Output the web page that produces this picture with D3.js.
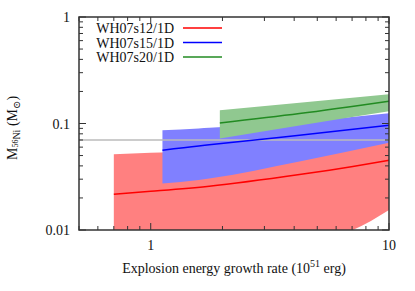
<!DOCTYPE html>
<html>
<head>
<meta charset="utf-8">
<script src="https://cdn.jsdelivr.net/npm/d3@7"></script>
<style>
  body { margin: 0; background: #fff; }
  text { font-family: "Liberation Serif", "DejaVu Serif", serif; fill: #111; }
</style>
</head>
<body>
<svg class="chart"></svg>
<script>
// Chart size
const width = 415;
const height = 291;
const margin = { top: 17, right: 26, bottom: 61, left: 79 };

// Series names and colours
const seriesNames = ["WH07s12/1D", "WH07s15/1D", "WH07s20/1D"];
const lineColors = ["#ff0000", "#0000ff", "#228b22"];
const bandColors = ["#ff8080", "#8080ff", "#90c890"];

// Explosion energy growth rate (x) for each series
const xS12 = [0.7, 1.0, 1.76, 4.21, 7.05, 10];
const xS15 = [1.12, 1.59, 1.76, 4.21, 10];
const xS20 = [1.95, 4.21, 10];

// Ni mass: central line, lower and upper edge of band
const midS12 = [0.0217, 0.0231, 0.0258, 0.0332, 0.0395, 0.0452];
const lowS12 = [0.004, 0.0045, 0.0055, 0.0078, 0.0100, 0.0154];
const highS12 = [0.0515, 0.053, 0.055, 0.060, 0.064, 0.067];

const midS15 = [0.0562, 0.0616, 0.063, 0.0777, 0.0963];
const lowS15 = [0.0273, 0.0295, 0.0304, 0.044, 0.066];
const highS15 = [0.0865, 0.0897, 0.091, 0.104, 0.125];

const midS20 = [0.1013, 0.124, 0.162];
const lowS20 = [0.0723, 0.0957, 0.130];
const highS20 = [0.133, 0.157, 0.188];

// Reference level
const refNi = 0.07;

// Tick labels
const xTicks = [1, 10];
const yTicks = [0.01, 0.1, 1];

const series = [
  { x: xS12, mid: midS12, low: lowS12, high: highS12 },
  { x: xS15, mid: midS15, low: lowS15, high: highS15 },
  { x: xS20, mid: midS20, low: lowS20, high: highS20 }
];

const svg = d3.select(".chart")
  .attr("width", width)
  .attr("height", height);

const x = d3.scaleLog().domain([0.5, 10]).range([margin.left, width - margin.right]);
const y = d3.scaleLog().domain([0.01, 1]).range([height - margin.bottom, margin.top]);

svg.append("clipPath").attr("id", "plot")
  .append("rect")
  .attr("x", margin.left).attr("y", margin.top)
  .attr("width", x.range()[1] - x.range()[0])
  .attr("height", y.range()[0] - y.range()[1]);

const g = svg.append("g").attr("clip-path", "url(#plot)");

// Bands
series.forEach((s, i) => {
  const pts = s.x.map((xv, j) => ({ x: xv, mid: s.mid[j], low: s.low[j], high: s.high[j] }));
  const area = d3.area()
    .x(d => x(d.x))
    .y0(d => y(d.low))
    .y1(d => y(d.high))
    .curve(d3.curveMonotoneX);
  g.append("path")
    .datum(pts)
    .attr("fill", bandColors[i])
    .attr("d", area);
  s.pts = pts;
});

// Reference line
g.append("line")
  .attr("x1", x.range()[0]).attr("x2", x.range()[1])
  .attr("y1", y(refNi)).attr("y2", y(refNi))
  .attr("stroke", "#bbbbbb")
  .attr("stroke-width", 1.5);

// Central lines
series.forEach((s, i) => {
  const line = d3.line()
    .x(d => x(d.x))
    .y(d => y(d.mid))
    .curve(d3.curveMonotoneX);
  g.append("path")
    .datum(s.pts)
    .attr("fill", "none")
    .attr("stroke", lineColors[i])
    .attr("stroke-width", 1.5)
    .attr("d", line);
});

// Frame and ticks
const x0 = x.range()[0], x1 = x.range()[1];
const y0 = y.range()[0], y1 = y.range()[1];
const axisColor = "#333";

const xMinor = [0.5, 0.6, 0.7, 0.8, 0.9, 2, 3, 4, 5, 6, 7, 8, 9];
const yMinor = [];
[0.01, 0.1].forEach(d => { for (let k = 2; k <= 9; k++) yMinor.push(d * k); });

const ticks = svg.append("g").attr("stroke", axisColor).attr("stroke-width", 1);
xMinor.concat(xTicks).forEach(v => {
  const len = xTicks.includes(v) ? 7 : 4;
  ticks.append("line").attr("x1", x(v)).attr("x2", x(v)).attr("y1", y0).attr("y2", y0 - len);
  ticks.append("line").attr("x1", x(v)).attr("x2", x(v)).attr("y1", y1).attr("y2", y1 + len);
});
yMinor.concat(yTicks).forEach(v => {
  const len = yTicks.includes(v) ? 7 : 4;
  ticks.append("line").attr("y1", y(v)).attr("y2", y(v)).attr("x1", x0).attr("x2", x0 + len);
  ticks.append("line").attr("y1", y(v)).attr("y2", y(v)).attr("x1", x1).attr("x2", x1 - len);
});

svg.append("rect")
  .attr("x", x0).attr("y", y1)
  .attr("width", x1 - x0).attr("height", y0 - y1)
  .attr("fill", "none")
  .attr("stroke", axisColor)
  .attr("stroke-width", 1.5);

// Tick labels
svg.selectAll(".xlab").data(xTicks).enter().append("text")
  .attr("x", d => x(d)).attr("y", y0 + 20)
  .attr("text-anchor", "middle")
  .attr("font-size", 14)
  .text(d => d);

svg.selectAll(".ylab").data(yTicks).enter().append("text")
  .attr("x", x0 - 9).attr("y", d => y(d) + 5)
  .attr("text-anchor", "end")
  .attr("font-size", 14)
  .text(d => d);

// Axis titles
const xt = svg.append("text")
  .attr("x", (x0 + x1) / 2).attr("y", 273)
  .attr("text-anchor", "middle")
  .attr("font-size", 14);
xt.append("tspan").text("Explosion energy growth rate (10");
xt.append("tspan").attr("font-size", 10).attr("dy", -6).text("51");
xt.append("tspan").attr("dy", 6).text(" erg)");

const yt = svg.append("text")
  .attr("transform", "translate(17,128) rotate(-90)")
  .attr("text-anchor", "middle")
  .attr("font-size", 14);
yt.append("tspan").text("M");
yt.append("tspan").attr("font-size", 8).attr("dy", 1).text("56");
yt.append("tspan").attr("font-size", 10).attr("dy", 2).text("Ni");
yt.append("tspan").attr("dy", -3).text(" (M");
yt.append("tspan").attr("font-size", 10).attr("dy", 3).text("\u2299");
yt.append("tspan").attr("dy", -3).text(")");

// Legend
const legend = svg.append("g");
seriesNames.forEach((name, i) => {
  const ly = 28 + i * 14.5;
  legend.append("text")
    .attr("x", 174).attr("y", ly + 5)
    .attr("text-anchor", "end")
    .attr("font-size", 14)
    .text(name);
  legend.append("line")
    .attr("x1", 183).attr("x2", 222)
    .attr("y1", ly).attr("y2", ly)
    .attr("stroke", lineColors[i])
    .attr("stroke-width", 1.5);
});
</script>
</body>
</html>
